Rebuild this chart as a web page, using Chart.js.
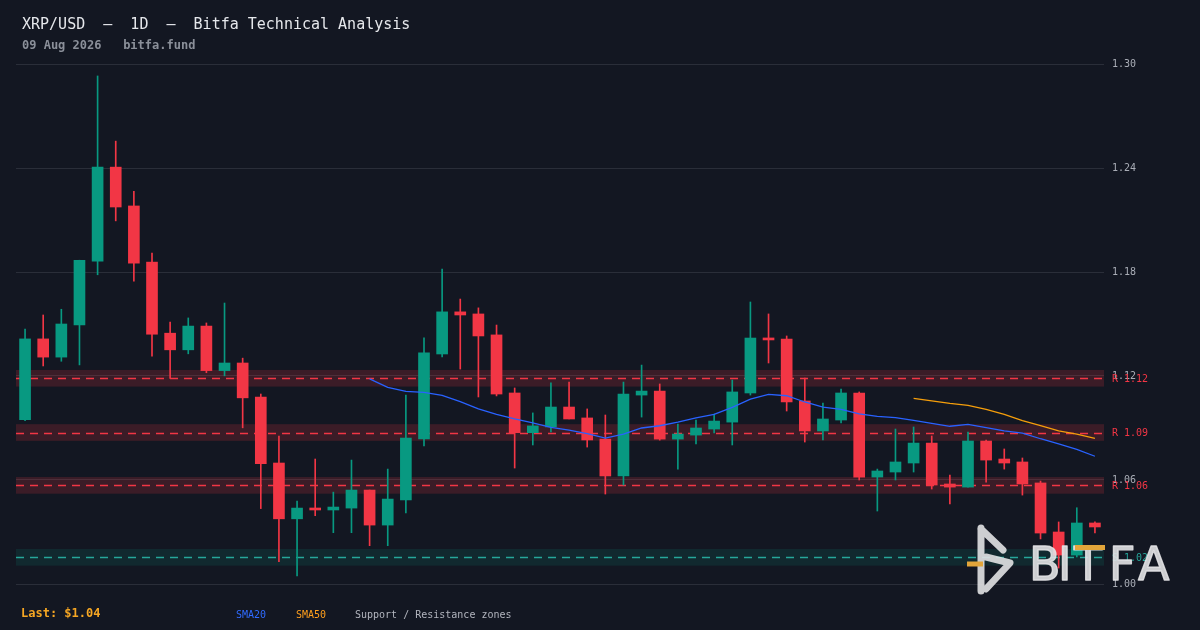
<!DOCTYPE html>
<html>
<head>
<meta charset="utf-8">
<script src="https://cdn.jsdelivr.net/npm/chart.js@4.4.1/dist/chart.umd.min.js"></script>
<style>
  html, body { margin: 0; padding: 0; background: #131722; }
  #wrap { position: relative; width: 1200px; height: 630px; overflow: hidden; background: #131722; font-family: "DejaVu Sans Mono", monospace; }
  #chart { position: absolute; left: 0; top: 0; }
  .txt { position: absolute; white-space: pre; }
  #title { left: 22px; top: 15px; font-size: 15px; line-height: 18px; color: #e6e8ec; }
  #sub { left: 22px; top: 38px; font-size: 12px; line-height: 14px; color: #8b909a; font-weight: bold; }
  #last { left: 21px; top: 606px; font-size: 12px; line-height: 14px; color: #f5a623; font-weight: bold; }
  .leg { top: 609px; font-size: 10px; line-height: 12px; }
</style>
</head>
<body>
<div id="wrap">
  <canvas id="chart" width="1200" height="630"></canvas>
  <div class="txt" id="title">XRP/USD  —  1D  —  Bitfa Technical Analysis</div>
  <div class="txt" id="sub">09 Aug 2026   bitfa.fund</div>
  <div class="txt" id="last">Last: $1.04</div>
  <div class="txt leg" style="left:236px;color:#2f6bff">SMA20</div>
  <div class="txt leg" style="left:296px;color:#ff9f1c">SMA50</div>
  <div class="txt leg" style="left:355px;color:#b2b5be">Support / Resistance zones</div>
</div>
<script>
"use strict"

const days = [
  "Jun 11","Jun 12","Jun 13","Jun 14","Jun 15","Jun 16","Jun 17","Jun 18","Jun 19","Jun 20",
  "Jun 21","Jun 22","Jun 23","Jun 24","Jun 25","Jun 26","Jun 27","Jun 28","Jun 29","Jun 30",
  "Jul 01","Jul 02","Jul 03","Jul 04","Jul 05","Jul 06","Jul 07","Jul 08","Jul 09","Jul 10",
  "Jul 11","Jul 12","Jul 13","Jul 14","Jul 15","Jul 16","Jul 17","Jul 18","Jul 19","Jul 20",
  "Jul 21","Jul 22","Jul 23","Jul 24","Jul 25","Jul 26","Jul 27","Jul 28","Jul 29","Jul 30",
  "Jul 31","Aug 01","Aug 02","Aug 03","Aug 04","Aug 05","Aug 06","Aug 07","Aug 08","Aug 09"
];

const opens = [
  1.0948,1.1414,1.1309,1.1494,1.1862,1.2405,1.2181,1.1857,1.1447,1.1351,
  1.1488,1.1231,1.1275,1.1078,1.0698,1.0376,1.0438,1.0427,1.0438,1.0542,
  1.0340,1.0485,1.0837,1.1327,1.1570,1.1558,1.1437,1.1102,1.0873,1.0906,
  1.1021,1.0958,1.0836,1.0623,1.1090,1.1113,1.0836,1.0859,1.0894,1.0934,
  1.1102,1.1419,1.1413,1.1056,1.0883,1.0946,1.1102,1.0617,1.0646,1.0698,
  1.0813,1.0577,1.0559,1.0825,1.0721,1.0704,1.0583,1.0300,1.0167,1.0352
];
const highs = [
  1.1470,1.1552,1.1585,1.1868,1.2931,1.2555,1.2266,1.1909,1.1511,1.1535,
  1.1506,1.1621,1.1303,1.1096,1.0854,1.0478,1.0721,1.0530,1.0715,1.0542,
  1.0663,1.1090,1.1420,1.1817,1.1644,1.1593,1.1494,1.1131,1.0987,1.1160,
  1.1165,1.1010,1.0975,1.1165,1.1263,1.1154,1.0923,1.0946,1.0981,1.1177,
  1.1627,1.1558,1.1431,1.1188,1.1044,1.1125,1.1108,1.0663,1.0894,1.0906,
  1.0854,1.0629,1.0877,1.0831,1.0779,1.0727,1.0594,1.0358,1.0440,1.0358
];
const lows = [
  1.0942,1.1258,1.1285,1.1264,1.1784,1.2095,1.1747,1.1314,1.1186,1.1328,
  1.1219,1.1201,1.0901,1.0435,1.0129,1.0047,1.0394,1.0296,1.0296,1.0221,
  1.0221,1.0410,1.0796,1.1310,1.1240,1.1079,1.1085,1.0669,1.0802,1.0877,
  1.0952,1.0790,1.0519,1.0571,1.0963,1.0830,1.0663,1.0808,1.0871,1.0802,
  1.1090,1.1275,1.0998,1.0819,1.0831,1.0929,1.0600,1.0421,1.0600,1.0646,
  1.0548,1.0462,1.0559,1.0588,1.0663,1.0513,1.0260,1.0092,1.0156,1.0294
];
const closes = [
  1.1414,1.1309,1.1500,1.1868,1.2405,1.2175,1.1851,1.1441,1.1351,1.1488,
  1.1231,1.1275,1.1074,1.0694,1.0376,1.0438,1.0427,1.0444,1.0542,1.0340,
  1.0490,1.0842,1.1333,1.1570,1.1552,1.1431,1.1096,1.0873,1.0912,1.1021,
  1.0952,1.0831,1.0623,1.1096,1.1113,1.0836,1.0865,1.0900,1.0940,1.1108,
  1.1419,1.1408,1.1050,1.0883,1.0952,1.1102,1.0617,1.0652,1.0704,1.0813,
  1.0571,1.0559,1.0825,1.0715,1.0698,1.0577,1.0294,1.0167,1.0352,1.0329
];

// moving averages (start at day 20 and day 50)
const sma20 = Array(19).fill(null).concat([
  1.1183,1.1135,1.1111,1.1106,1.1088,1.1052,1.1010,1.0979,1.0952,1.0929,
  1.0904,1.0888,1.0868,1.0842,1.0865,1.0900,1.0913,1.0934,1.0958,1.0979,
  1.1019,1.1067,1.1094,1.1086,1.1050,1.1021,1.1008,1.0981,1.0967,1.0960,
  1.0944,1.0927,1.0910,1.0921,1.0902,1.0884,1.0871,1.0838,1.0808,1.0777,
  1.0737
]);
const sma50 = Array(49).fill(null).concat([
  1.1071,1.1056,1.1042,1.1031,1.1008,1.0979,1.0942,1.0913,1.0883,1.0865,1.0840
]);

const zoneLevels = [1.1187, 1.0874, 1.0569, 1.0154];
const zoneKinds = ["R", "R", "R", "S"];
const zoneHalf = 0.0048;

const yTicks = [1.00, 1.06, 1.12, 1.18, 1.24, 1.30];

const UP = "#089981";
const DOWN = "#f23645";
const candleColors = closes.map((c, i) => c >= opens[i] ? UP : DOWN);

const zonePlugin = {
  id: "zones",
  beforeDatasetsDraw(chart) {
    const ctx = chart.ctx;
    const area = chart.chartArea;
    const y = chart.scales.y;
    ctx.save();
    zoneLevels.forEach((lvl, i) => {
      const sup = zoneKinds[i] === "S";
      const top = y.getPixelForValue(lvl + zoneHalf);
      const bot = y.getPixelForValue(lvl - zoneHalf);
      ctx.fillStyle = sup ? "rgba(8,153,129,0.14)" : "rgba(242,54,69,0.18)";
      ctx.fillRect(area.left, top, area.right - area.left, bot - top);
      const py = Math.round(y.getPixelForValue(lvl)) + 0.5;
      ctx.strokeStyle = sup ? "#26a69a" : "#f23645";
      ctx.lineWidth = 1.3;
      ctx.setLineDash([8, 6]);
      ctx.beginPath();
      ctx.moveTo(area.left, py);
      ctx.lineTo(area.right, py);
      ctx.stroke();
    });
    ctx.restore();
  },
  afterDraw(chart) {
    const ctx = chart.ctx;
    const area = chart.chartArea;
    const y = chart.scales.y;
    ctx.save();
    ctx.font = "10px 'DejaVu Sans Mono'";
    ctx.textBaseline = "middle";
    zoneLevels.forEach((lvl, i) => {
      ctx.fillStyle = zoneKinds[i] === "S" ? "#26a69a" : "#f23645";
      ctx.fillText(zoneKinds[i] + " " + lvl.toFixed(2), area.right + 8, y.getPixelForValue(lvl) + 1);
    });
    ctx.restore();
  }
};

// bitfa watermark, bottom right
const logoPlugin = {
  id: "logo",
  afterDraw(chart) {
    const ctx = chart.ctx;
    ctx.save();
    ctx.strokeStyle = "rgba(226,226,228,0.9)";
    ctx.fillStyle = "rgba(226,226,228,0.9)";
    ctx.lineWidth = 7;
    ctx.lineCap = "round";
    ctx.lineJoin = "round";
    ctx.beginPath();
    ctx.moveTo(981, 528); ctx.lineTo(981, 591);
    ctx.moveTo(981, 529); ctx.lineTo(1003, 550);
    ctx.moveTo(986, 557); ctx.lineTo(1010, 563); ctx.lineTo(986, 589);
    ctx.stroke();
    ctx.fillStyle = "#e2a53a";
    ctx.fillRect(967, 561.5, 16, 5);

    ctx.fillStyle = "rgba(226,226,228,0.9)";
    ctx.strokeStyle = "rgba(226,226,228,0.9)";
    ctx.lineWidth = 1.4;
    ctx.font = "46px 'DejaVu Sans'";
    ctx.textBaseline = "alphabetic";
    [["B", 1029], ["I", 1058], ["T", 1074], ["F", 1109], ["A", 1138]].forEach(([ch, x]) => {
      ctx.fillText(ch, x, 580);
      ctx.strokeText(ch, x, 580);
    });
    ctx.fillStyle = "#e2a53a";
    ctx.fillRect(1075, 545, 30, 5);
    ctx.restore();
  }
};

new Chart(document.getElementById("chart"), {
  type: "bar",
  data: {
    labels: days,
    datasets: [
      {
        type: "line",
        label: "SMA20",
        data: sma20,
        borderColor: "#2962ff",
        borderWidth: 1.3,
        pointRadius: 0,
        tension: 0,
        spanGaps: false,
        order: 0
      },
      {
        type: "line",
        label: "SMA50",
        data: sma50,
        borderColor: "#f59e0b",
        borderWidth: 1.3,
        pointRadius: 0,
        tension: 0,
        order: 0
      },
      {
        label: "body",
        data: opens.map((o, i) => [o, closes[i]]),
        backgroundColor: candleColors,
        borderWidth: 0,
        barThickness: 11,
        minBarLength: 2,
        grouped: false,
        order: 1
      },
      {
        label: "wick",
        data: lows.map((l, i) => [l, highs[i]]),
        backgroundColor: candleColors,
        borderWidth: 0,
        barThickness: 1,
        grouped: false,
        order: 2
      }
    ]
  },
  options: {
    responsive: false,
    animation: false,
    devicePixelRatio: 1,
    layout: { padding: { top: 64, bottom: 46, left: 16, right: 0 } },
    plugins: {
      legend: { display: false },
      tooltip: { enabled: false }
    },
    scales: {
      x: {
        display: false,
        offset: true,
        grid: { display: false }
      },
      y: {
        position: "right",
        min: 1.00,
        max: 1.30,
        afterFit: (s) => { s.width = 96; },
        afterBuildTicks: (s) => { s.ticks = yTicks.map(v => ({ value: v })); },
        border: { display: false },
        grid: { color: "#2a2e39", lineWidth: 1, drawTicks: false },
        ticks: {
          padding: 8,
          color: "#a9adb6",
          font: { family: "'DejaVu Sans Mono'", size: 10 },
          callback: (v) => Number(v).toFixed(2)
        }
      }
    }
  },
  plugins: [zonePlugin, logoPlugin]
});
</script>
</body>
</html>
